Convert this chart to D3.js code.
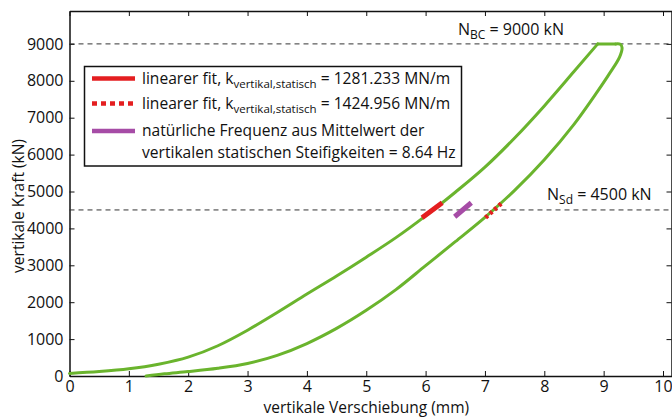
<!DOCTYPE html>
<html>
<head>
<meta charset="utf-8">
<script src="https://cdn.jsdelivr.net/npm/d3@7"></script>
<style>
  body { margin: 0; background: #fff; }
  svg text { font-family: "Open Sans", sans-serif; fill: #111; }
  .axis path, .axis line { stroke: #111; }
  .axis text { font-size: 16px; font-family: "Open Sans", sans-serif; }
</style>
</head>
<body>
<div id="vis"></div>
<script>
// loading branch (upper curve) in mm / kN
var upperX = [0, 0.5, 1, 1.5, 2, 2.5, 3, 3.5, 4, 4.5, 5, 5.5, 6, 6.5, 7, 7.5, 8, 8.5, 8.9];
var upperY = [70, 120, 195, 320, 510, 820, 1240, 1720, 2220, 2710, 3220, 3750, 4340, 4980, 5660, 6450, 7320, 8250, 9000];
// plateau at max load, then unloading branch (lower curve)
var lowerX = [9.2, 9.28, 9.31, 9.27, 9.1, 8.9, 8.5, 8, 7.5, 7, 6.5, 6, 5.5, 5, 4.5, 4, 3.5, 3, 2.5, 2, 1.6, 1.29];
var lowerY = [9000, 8990, 8900, 8650, 8200, 7720, 6820, 5860, 5030, 4300, 3640, 2990, 2340, 1780, 1290, 880, 560, 340, 210, 120, 60, 0];

// fit segments [x1, y1, x2, y2]
var fitSolid = [5.94, 4290, 6.28, 4695];
var fitDotted = [7.01, 4290, 7.29, 4695];
var freqLine = [6.49, 4316, 6.77, 4695];

var xTicks = [0, 1, 2, 3, 4, 5, 6, 7, 8, 9, 10];
var yTicks = [0, 1000, 2000, 3000, 4000, 5000, 6000, 7000, 8000, 9000];
var refLevels = [9000, 4500];

var legendRows = [
    {pre: 'linearer fit, k', sub: 'vertikal,statisch', post: ' = 1281.233 MN/m', color: '#e41e20', dash: null},
    {pre: 'linearer fit, k', sub: 'vertikal,statisch', post: ' = 1424.956 MN/m', color: '#e41e20', dash: '5,4'},
    {pre: 'natürliche Frequenz aus Mittelwert der', sub: '', post: '', color: '#a64ca6', dash: null}
];

var width = 672, height = 417;
var mLeft = 69.5, mRight = 671.5, mTop = 11, mBottom = 376;

var svg = d3.select('#vis').append('svg')
    .attr('width', width)
    .attr('height', height);

var x = d3.scaleLinear().domain([0, 10.15]).range([mLeft, mLeft + 10.15 * 59.35]);
var y = d3.scaleLinear().domain([0, (mBottom - mTop) / 36.9 * 1000]).range([mBottom, mTop]);

// axes, ticks pointing inward
svg.append('g').attr('class', 'axis')
    .attr('transform', 'translate(0,' + mBottom + ')')
    .call(d3.axisBottom(x).tickValues(xTicks).tickSizeInner(-5).tickSizeOuter(0).tickPadding(5).tickFormat(d3.format('d')));

svg.append('g').attr('class', 'axis')
    .attr('transform', 'translate(' + mLeft + ',0)')
    .call(d3.axisLeft(y).tickValues(yTicks).tickSizeInner(-5).tickSizeOuter(0).tickPadding(6).tickFormat(d3.format('d')));

svg.append('g').attr('class', 'axis')
    .attr('transform', 'translate(0,' + mTop + ')')
    .call(d3.axisTop(x).tickValues(xTicks).tickSizeInner(-5).tickSizeOuter(0).tickFormat(''));

svg.append('g').attr('class', 'axis')
    .attr('transform', 'translate(' + mRight + ',0)')
    .call(d3.axisRight(y).tickValues(yTicks).tickSizeInner(-5).tickSizeOuter(0).tickFormat(''));

svg.selectAll('.axis path').attr('stroke-width', 1.5);

// reference levels
svg.selectAll('.ref')
    .data(refLevels)
    .enter().append('line')
    .attr('class', 'ref')
    .attr('x1', mLeft).attr('x2', mRight)
    .attr('y1', d => y(d)).attr('y2', d => y(d))
    .attr('stroke', '#333')
    .attr('stroke-width', 1)
    .attr('stroke-dasharray', '5,4');

// hysteresis loop: loading (monotone), plateau (straight), unloading
var up = upperX.map((d, i) => [d, upperY[i]]);
var down = lowerX.map((d, i) => [d, lowerY[i]]);
var plateau = [up[up.length - 1], down[0]];

function loopPart(data, curve) {
    svg.append('path')
        .datum(data)
        .attr('d', d3.line().x(d => x(d[0])).y(d => y(d[1])).curve(curve))
        .attr('fill', 'none')
        .attr('stroke', '#6ab42d')
        .attr('stroke-width', 3)
        .attr('stroke-linejoin', 'round')
        .attr('stroke-linecap', 'round');
}
loopPart(up, d3.curveMonotoneX);
loopPart(plateau, d3.curveLinear);
loopPart(down, d3.curveCatmullRom.alpha(0.5));

// fit segments
function seg(s, color, w, dash) {
    svg.append('line')
        .attr('x1', x(s[0])).attr('y1', y(s[1]))
        .attr('x2', x(s[2])).attr('y2', y(s[3]))
        .attr('stroke', color)
        .attr('stroke-width', w)
        .attr('stroke-dasharray', dash);
}
seg(fitSolid, '#e41e20', 5, null);
seg(freqLine, '#a64ca6', 5, null);
seg(fitDotted, '#e41e20', 4.5, '3,3');

// annotations
function subLabel(tx, ty, main, sub, rest) {
    var t = svg.append('text').attr('x', tx).attr('y', ty).style('font-size', '16px');
    t.append('tspan').text(main);
    t.append('tspan').attr('dy', 4).style('font-size', '12px').text(sub);
    t.append('tspan').attr('dy', -4).text(rest);
}
subLabel(458, 35, 'N', 'BC', ' = 9000 kN');
subLabel(547, 200, 'N', 'Sd', ' = 4500 kN');

// legend
var lg = svg.append('g');
lg.append('rect')
    .attr('x', 84.5).attr('y', 66.5)
    .attr('width', 377).attr('height', 99.5)
    .attr('fill', '#fff')
    .attr('stroke', '#111')
    .attr('stroke-width', 1.5);

var rowY = [78.5, 103.5, 131];
legendRows.forEach(function(r, i) {
    lg.append('line')
        .attr('x1', 92).attr('x2', 135)
        .attr('y1', rowY[i]).attr('y2', rowY[i])
        .attr('stroke', r.color)
        .attr('stroke-width', 4.5)
        .attr('stroke-dasharray', r.dash);
    var t = lg.append('text').attr('x', 142).attr('y', rowY[i] + 5).style('font-size', '15.6px');
    t.append('tspan').text(r.pre);
    if (r.sub) {
        t.append('tspan').attr('dy', 4).style('font-size', '11.5px').text(r.sub);
        t.append('tspan').attr('dy', -4).text(r.post);
    }
});
lg.append('text').attr('x', 142).attr('y', 158).style('font-size', '15.6px')
    .text('vertikalen statischen Steifigkeiten = 8.64 Hz');

// axis titles
svg.append('text')
    .attr('x', (mLeft + 663) / 2).attr('y', 413)
    .attr('text-anchor', 'middle')
    .style('font-size', '15.5px')
    .text('vertikale Verschiebung (mm)');

svg.append('text')
    .attr('transform', 'translate(24,' + 206 + ') rotate(-90)')
    .attr('text-anchor', 'middle')
    .style('font-size', '15.5px')
    .text('vertikale Kraft (kN)');
</script>
</body>
</html>
